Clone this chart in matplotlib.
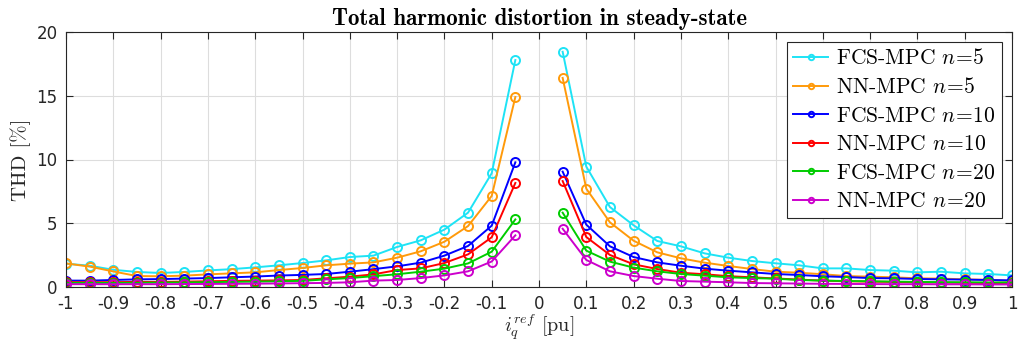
import numpy as np
import matplotlib
matplotlib.use("Agg")
import matplotlib.pyplot as plt

plt.rcParams["mathtext.fontset"] = "cm"
plt.rcParams["axes.unicode_minus"] = False

# Reference current (pu), negative and positive halves
x_neg = [-1.00, -0.95, -0.90, -0.85, -0.80, -0.75, -0.70, -0.65, -0.60, -0.55,
         -0.50, -0.45, -0.40, -0.35, -0.30, -0.25, -0.20, -0.15, -0.10, -0.05]
x_pos = [0.05, 0.10, 0.15, 0.20, 0.25, 0.30, 0.35, 0.40, 0.45, 0.50,
         0.55, 0.60, 0.65, 0.70, 0.75, 0.80, 0.85, 0.90, 0.95, 1.00]

# THD [%]
fcs5_neg = [1.83, 1.67, 1.35, 1.18, 1.10, 1.18, 1.30, 1.40, 1.54, 1.70,
            1.88, 2.09, 2.35, 2.46, 3.14, 3.66, 4.50, 5.83, 8.92, 17.8]
fcs5_pos = [18.45, 9.44, 6.27, 4.84, 3.61, 3.19, 2.64, 2.30, 2.04, 1.86,
            1.70, 1.46, 1.46, 1.33, 1.28, 1.15, 1.20, 1.07, 1.02, 0.91]
nn5_neg = [1.85, 1.60, 1.22, 0.86, 0.84, 0.89, 0.99, 1.07, 1.15, 1.33,
           1.49, 1.70, 1.83, 1.93, 2.30, 2.80, 3.55, 4.78, 7.14, 14.9]
nn5_pos = [16.4, 7.71, 5.07, 3.63, 2.72, 2.25, 1.91, 1.65, 1.41, 1.20,
           1.12, 1.00, 0.86, 0.81, 0.76, 0.68, 0.66, 0.60, 0.56, 0.47]
fcs10_neg = [0.50, 0.50, 0.55, 0.60, 0.62, 0.66, 0.70, 0.76, 0.82, 0.90,
             0.95, 1.02, 1.20, 1.40, 1.62, 1.91, 2.46, 3.22, 4.81, 9.78]
fcs10_pos = [9.05, 4.89, 3.19, 2.35, 1.93, 1.67, 1.44, 1.28, 1.15, 1.02,
             0.94, 0.84, 0.78, 0.70, 0.68, 0.63, 0.60, 0.58, 0.55, 0.52]
nn10_neg = [0.38, 0.38, 0.38, 0.40, 0.40, 0.42, 0.45, 0.48, 0.50, 0.52,
            0.55, 0.68, 0.81, 0.99, 1.33, 1.46, 1.88, 2.56, 3.90, 8.16]
nn10_pos = [8.31, 3.92, 2.51, 1.78, 1.41, 1.12, 1.00, 0.85, 0.76, 0.67,
            0.58, 0.50, 0.45, 0.42, 0.40, 0.37, 0.35, 0.33, 0.31, 0.30]
fcs20_neg = [0.32, 0.32, 0.32, 0.33, 0.35, 0.36, 0.38, 0.40, 0.42, 0.45,
             0.48, 0.60, 0.70, 0.85, 1.00, 1.20, 1.44, 1.85, 2.77, 5.30]
fcs20_pos = [5.83, 2.85, 1.99, 1.52, 1.23, 1.02, 0.89, 0.76, 0.70, 0.65,
             0.55, 0.50, 0.47, 0.45, 0.42, 0.40, 0.38, 0.37, 0.36, 0.35]
nn20_neg = [0.22, 0.22, 0.22, 0.22, 0.22, 0.23, 0.24, 0.25, 0.26, 0.28,
            0.30, 0.32, 0.37, 0.50, 0.55, 0.70, 0.91, 1.23, 2.00, 4.05]
nn20_pos = [4.57, 2.12, 1.23, 0.86, 0.65, 0.47, 0.42, 0.37, 0.31, 0.29,
            0.27, 0.25, 0.24, 0.23, 0.22, 0.22, 0.21, 0.21, 0.20, 0.20]

series = [
    ("FCS-MPC", 5, fcs5_neg, fcs5_pos, "#1ee3f5"),
    ("NN-MPC", 5, nn5_neg, nn5_pos, "#ff9a0a"),
    ("FCS-MPC", 10, fcs10_neg, fcs10_pos, "#0000ff"),
    ("NN-MPC", 10, nn10_neg, nn10_pos, "#ff0000"),
    ("FCS-MPC", 20, fcs20_neg, fcs20_pos, "#00cc00"),
    ("NN-MPC", 20, nn20_neg, nn20_pos, "#cc00cc"),
]

xticks = [-1, -0.9, -0.8, -0.7, -0.6, -0.5, -0.4, -0.3, -0.2, -0.1, 0,
          0.1, 0.2, 0.3, 0.4, 0.5, 0.6, 0.7, 0.8, 0.9, 1]
xticklabels = ["-1", "-0.9", "-0.8", "-0.7", "-0.6", "-0.5", "-0.4", "-0.3",
               "-0.2", "-0.1", "0", "0.1", "0.2", "0.3", "0.4", "0.5", "0.6",
               "0.7", "0.8", "0.9", "1"]
yticks = [0, 5, 10, 15, 20]

fig = plt.figure(figsize=(10.18, 3.45), dpi=100)
ax = fig.add_axes([66 / 1018, 1 - 287 / 345, (1012 - 66) / 1018, (287 - 32) / 345])

frame_col = "#262626"
for name, n, yneg, ypos, col in series:
    # NaN breaks the curve at zero reference current
    xs = list(x_neg) + [np.nan] + list(x_pos)
    ys = list(yneg) + [np.nan] + list(ypos)
    ax.plot(xs, ys, color=col, lw=1.4, marker="o", ms=6.5, mfc="none",
            mew=1.4, label=name + r" $n\!=\!" + str(n) + "$")

ax.set_xlim(-1, 1)
ax.set_ylim(0, 20)
ax.set_xticks(xticks)
ax.set_xticklabels(xticklabels)
ax.set_yticks(yticks)
ax.tick_params(direction="in", top=True, right=True, length=5, width=0.8,
               colors=frame_col, labelsize=12, pad=6)
ax.grid(True, color="#dddddd", lw=0.8)
ax.set_axisbelow(True)
for sp in ax.spines.values():
    sp.set_color(frame_col)
    sp.set_linewidth(0.8)

ax.set_title("Total harmonic distortion in steady-state", fontfamily="cmb10",
             fontsize=16.5, pad=5)
ax.set_ylabel("THD [%]", fontfamily="cmr10", fontsize=15, color=frame_col, labelpad=4)
ax.set_xlabel(r"$i_q^{ref}$ [pu]", fontfamily="cmr10", fontsize=14.5,
              color=frame_col, labelpad=-1)

leg = ax.legend(loc="upper right", prop={"family": "cmr10", "size": 15.5},
                fancybox=False, edgecolor="#262626", framealpha=1,
                borderaxespad=0.45, handlelength=1.6, handletextpad=0.4,
                labelspacing=0.42, markerscale=0.6, borderpad=0.3)
leg.get_frame().set_linewidth(0.8)

fig.savefig("out.png", dpi=100)
